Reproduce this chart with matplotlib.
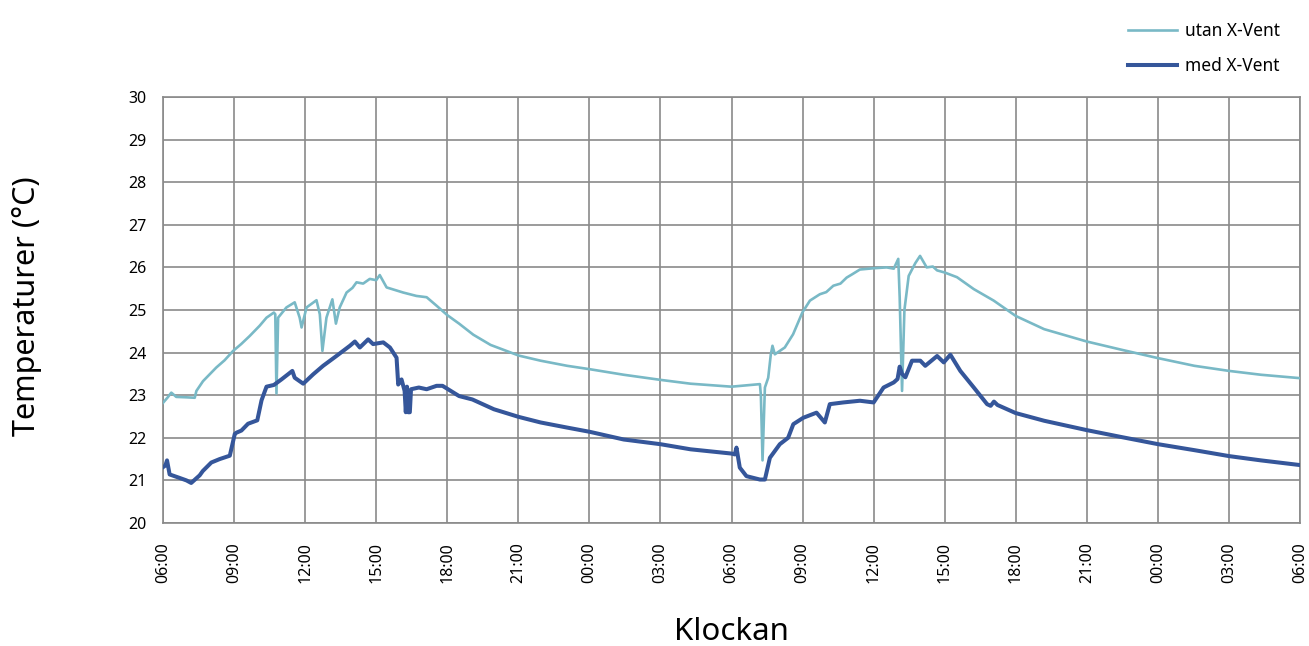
import numpy as np
import matplotlib
matplotlib.use("Agg")
import matplotlib.pyplot as plt

plt.rcParams['font.family'] = ['Noto Sans', 'DejaVu Sans']

# hours after 06:00 on day 1
tick_hours = list(range(0, 49, 3))
tick_labels = ["06:00", "09:00", "12:00", "15:00", "18:00", "21:00", "00:00", "03:00",
               "06:00", "09:00", "12:00", "15:00", "18:00", "21:00", "00:00", "03:00", "06:00"]

# utan X-Vent
utan_h = [0, 0.2, 0.35, 0.56, 1.0, 1.34, 1.41, 1.69, 2.25, 2.6,
          2.96, 3.3, 3.66, 4.08, 4.37, 4.68, 4.74, 4.79, 4.86, 5.21,
          5.56, 5.77, 5.85, 6.06, 6.48, 6.62, 6.73, 6.9, 7.15, 7.3,
          7.46, 7.75, 8.0, 8.17, 8.45, 8.73, 9.0, 9.15, 9.44, 10.14,
          10.7, 11.13, 11.55, 12.0, 12.5, 13.1, 13.83, 15.02, 15.94, 17.06,
          18.02, 19.45, 21.0, 22.27, 24.0, 25.2, 25.24, 25.31, 25.41, 25.55,
          25.66, 25.73, 25.83, 26.25, 26.6, 26.99, 27.31, 27.73, 28.0, 28.3,
          28.6, 28.86, 29.1, 29.42, 30.0, 30.55, 30.85, 31.04, 31.1, 31.2,
          31.3, 31.48, 31.76, 31.96, 32.24, 32.5, 32.68, 33.0, 33.52, 34.23,
          35.07, 36, 37.2, 39, 40.44, 42.01, 43.54, 45.01, 46.35, 48]
utan_t = [22.82, 22.95, 23.06, 22.96, 22.95, 22.94, 23.1, 23.33, 23.65, 23.82,
          24.04, 24.2, 24.39, 24.63, 24.82, 24.94, 24.9, 23.04, 24.82, 25.06,
          25.18, 24.82, 24.59, 25.06, 25.23, 24.9, 24.04, 24.82, 25.25, 24.68,
          25.06, 25.41, 25.52, 25.65, 25.62, 25.73, 25.7, 25.82, 25.53, 25.41,
          25.33, 25.3, 25.1, 24.88, 24.68, 24.42, 24.18, 23.93, 23.81, 23.69,
          23.61, 23.48, 23.36, 23.27, 23.2, 23.26, 23.0, 21.47, 23.18, 23.41,
          23.96, 24.16, 23.96, 24.12, 24.43, 24.94, 25.22, 25.37, 25.42, 25.57,
          25.62, 25.76, 25.84, 25.95, 25.98, 26.0, 25.97, 26.2, 25.3, 23.1,
          25.0, 25.8, 26.1, 26.27, 26.0, 26.02, 25.93, 25.88, 25.77, 25.49,
          25.22, 24.86, 24.55, 24.26, 24.07, 23.87, 23.69, 23.57, 23.48, 23.4]

# med X-Vent
med_h = [0, 0.1, 0.17, 0.28, 0.69, 0.99, 1.19, 1.55, 1.68, 2.04,
         2.39, 2.82, 3.03, 3.1, 3.31, 3.59, 3.98, 4.16, 4.37, 4.68,
         5.0, 5.46, 5.56, 5.92, 6.34, 6.76, 7.32, 7.89, 8.1, 8.31,
         8.66, 8.87, 9.3, 9.58, 9.86, 9.93, 10.07, 10.2, 10.25, 10.3,
         10.35, 10.42, 10.47, 10.8, 11.13, 11.55, 11.8, 12.5, 13.06, 13.97,
         15.02, 15.94, 17.06, 18.02, 19.45, 21.0, 22.27, 24.0, 24.14, 24.21,
         24.35, 24.63, 25.2, 25.41, 25.62, 26.04, 26.39, 26.61, 27.03, 27.59,
         27.94, 28.15, 28.72, 29.42, 30.0, 30.42, 30.85, 31.01, 31.1, 31.2,
         31.34, 31.62, 31.97, 32.18, 32.68, 32.96, 33.24, 33.66, 34.23, 34.79,
         34.94, 35.08, 35.23, 36, 37.2, 39, 40.44, 42.01, 43.54, 45.01,
         46.35, 48]
med_t = [21.31, 21.35, 21.47, 21.14, 21.06, 21.0, 20.94, 21.12, 21.22, 21.42,
         21.5, 21.58, 22.09, 22.12, 22.17, 22.33, 22.41, 22.88, 23.2, 23.24,
         23.37, 23.57, 23.41, 23.27, 23.49, 23.69, 23.92, 24.16, 24.26, 24.12,
         24.31, 24.2, 24.24, 24.12, 23.88, 23.25, 23.37, 23.1, 22.6, 23.2,
         22.6, 22.6, 23.14, 23.18, 23.14, 23.22, 23.22, 22.98, 22.9, 22.67,
         22.49, 22.36, 22.24, 22.14, 21.96, 21.85, 21.73, 21.63, 21.61, 21.77,
         21.3, 21.1, 21.02, 21.02, 21.53, 21.85, 22.0, 22.32, 22.47, 22.59,
         22.36, 22.79, 22.83, 22.87, 22.83, 23.18, 23.3, 23.38, 23.67, 23.5,
         23.42, 23.81, 23.81, 23.69, 23.92, 23.77, 23.95, 23.57, 23.18, 22.79,
         22.75, 22.85, 22.77, 22.58, 22.4, 22.18, 22.02, 21.85, 21.71, 21.57,
         21.47, 21.36]

light = "#79b9c6"
dark = "#35569a"
grid_col = "#8a8a8a"

fig = plt.figure(figsize=(13.09, 6.46), dpi=100)
ax = fig.add_axes([163 / 1309, 1 - 523 / 646, 1137 / 1309, 426 / 646])

ax.plot(utan_h, utan_t, color=light, lw=1.9, label="utan X-Vent", zorder=3)
ax.plot(med_h, med_t, color=dark, lw=2.9, label="med X-Vent", zorder=4)

ax.set_xlim(0, 48)
ax.set_ylim(20, 30)
ax.set_xticks(tick_hours)
ax.set_xticklabels(tick_labels, rotation=90, fontsize=11.5)
ax.set_yticks(range(20, 31))
ax.tick_params(axis='y', labelsize=11.5, length=0, pad=12)
ax.tick_params(axis='x', length=0, pad=14)
ax.grid(True, color=grid_col, lw=1.2)
ax.set_axisbelow(True)
for s in ax.spines.values():
    s.set_color(grid_col)
    s.set_linewidth(1.2)

fig.text(27 / 1309, 1 - 306 / 646, "Temperaturer (°C)", rotation=90,
         fontsize=22, ha="center", va="center")
fig.text(731 / 1309, 1 - 632 / 646, "Klockan", fontsize=22.5,
         ha="center", va="center")

fig.legend(loc='upper right', bbox_to_anchor=(1296 / 1309, 1 - 6 / 646),
           frameon=False, fontsize=12.5, handlelength=2.8, handletextpad=0.5,
           labelspacing=1.0)

fig.savefig("out.png", dpi=100)
